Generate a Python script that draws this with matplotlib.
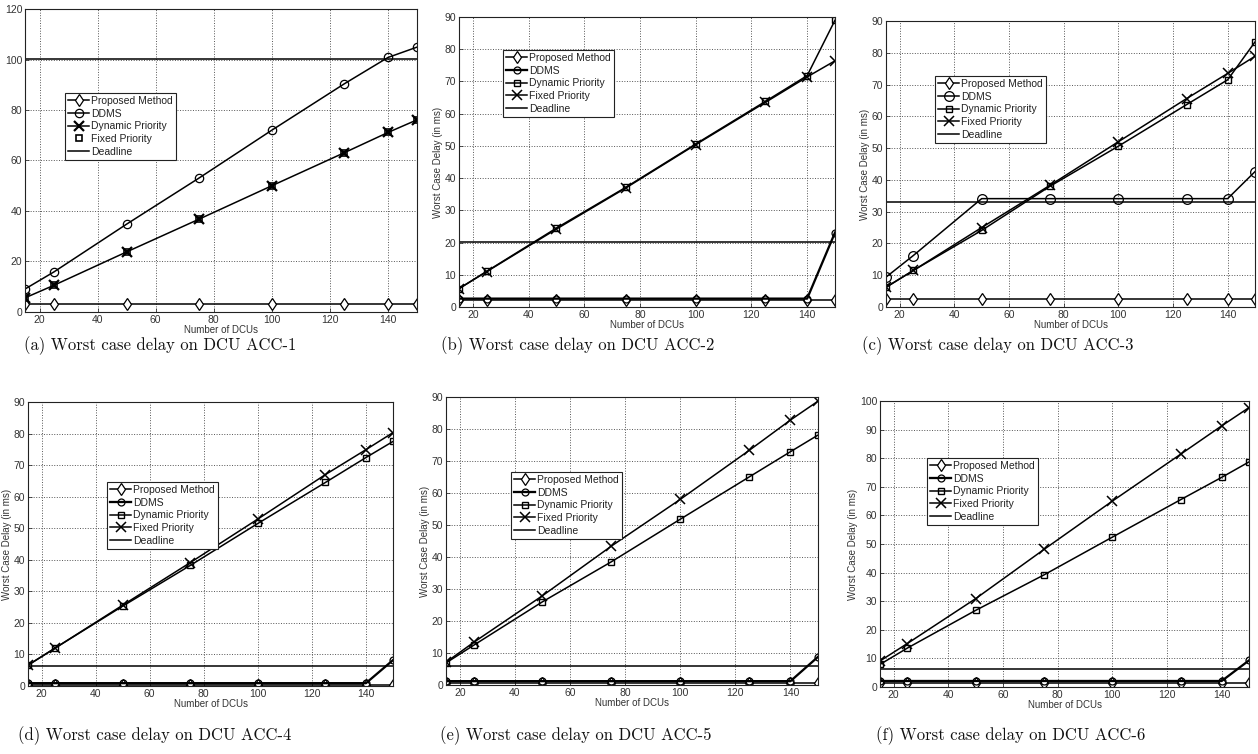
import matplotlib
matplotlib.use("Agg")
import matplotlib.pyplot as plt

# ---------------- data ----------------
n_dcus = [15, 25, 50, 75, 100, 125, 140, 150]

# (a) ACC-1
a_proposed = [3.3, 3.3, 3.3, 3.3, 3.3, 3.3, 3.3, 3.3]
a_ddms = [9.1, 15.9, 34.8, 53.1, 72.0, 90.4, 100.8, 104.9]
a_dynamic = [5.6, 10.6, 23.8, 36.8, 50.0, 63.1, 71.1, 76.1]
a_fixed = [5.6, 10.6, 23.8, 36.8, 50.0, 63.1, 71.1, 76.1]
a_deadline = 100.2

# (b) ACC-2
b_proposed = [2.1, 2.1, 2.1, 2.1, 2.1, 2.1, 2.1, 2.1]
b_ddms = [2.6, 2.6, 2.6, 2.6, 2.6, 2.6, 2.6, 23.1]
b_dynamic = [5.7, 11.1, 24.5, 37.2, 50.6, 63.8, 71.8, 89.0]
b_fixed = [5.7, 11.0, 24.2, 37.0, 50.4, 63.5, 71.4, 76.4]
b_deadline = 20.2

# (c) ACC-3
c_proposed = [2.6, 2.6, 2.6, 2.6, 2.6, 2.6, 2.6, 2.6]
c_ddms = [9.4, 16.2, 34.1, 34.1, 34.1, 34.1, 34.1, 42.6]
c_dynamic = [6.2, 11.5, 24.1, 38.0, 50.6, 63.7, 71.5, 83.4]
c_fixed = [6.2, 11.5, 25.0, 38.3, 52.0, 65.6, 73.5, 78.9]
c_deadline = 33.1

# (d) ACC-4
d_proposed = [0.4, 0.4, 0.4, 0.4, 0.4, 0.4, 0.4, 0.4]
d_ddms = [0.9, 0.9, 0.9, 0.9, 0.9, 0.9, 0.9, 8.2]
d_dynamic = [6.6, 12.0, 25.3, 38.2, 51.5, 64.5, 72.4, 77.5]
d_fixed = [6.6, 12.0, 25.6, 39.1, 52.9, 67.0, 74.9, 80.3]
d_deadline = 6.3

# (e) ACC-5
e_proposed = [0.6, 0.6, 0.6, 0.6, 0.6, 0.6, 0.6, 0.6]
e_ddms = [1.2, 1.2, 1.2, 1.2, 1.2, 1.2, 1.2, 8.8]
e_dynamic = [6.9, 12.4, 26.0, 38.5, 51.8, 65.0, 72.9, 78.1]
e_fixed = [7.1, 13.3, 27.9, 43.4, 58.0, 73.3, 82.8, 88.7]
e_deadline = 5.9

# (f) ACC-6
f_proposed = [1.5, 1.5, 1.5, 1.5, 1.5, 1.5, 1.5, 1.5]
f_ddms = [2.1, 2.1, 2.1, 2.1, 2.1, 2.1, 2.1, 9.3]
f_dynamic = [7.9, 13.6, 26.8, 39.2, 52.4, 65.5, 73.3, 78.7]
f_fixed = [9.1, 15.2, 30.9, 48.1, 65.0, 81.4, 91.3, 97.7]
f_deadline = 6.2

captions = [
    "(a) Worst case delay on DCU ACC-1",
    "(b) Worst case delay on DCU ACC-2",
    "(c) Worst case delay on DCU ACC-3",
    "(d) Worst case delay on DCU ACC-4",
    "(e) Worst case delay on DCU ACC-5",
    "(f) Worst case delay on DCU ACC-6",
]
series_names = ["Proposed Method", "DDMS", "Dynamic Priority", "Fixed Priority", "Deadline"]
xlabel = "Number of DCUs"
ylabel = "Worst Case Delay (in ms)"

# ---------------- drawing ----------------
W, H = 1258, 754
fig = plt.figure(figsize=(W / 100, H / 100), dpi=100)
plt.rcParams["font.family"] = ["Liberation Sans", "DejaVu Sans"]

TXT = "#333333"


def add_ax(l, t, r, b):
    return fig.add_axes([l / W, 1 - b / H, (r - l) / W, (b - t) / H])


panels = [
    dict(box=(25, 9, 417, 312), ymax=120, ystep=20,
         d=(a_proposed, a_ddms, a_dynamic, a_fixed), dl=a_deadline,
         leg=(65, 93), variant="a", ylab=False, cap=(160, 346)),
    dict(box=(459, 17, 835, 307), ymax=90, ystep=10,
         d=(b_proposed, b_ddms, b_dynamic, b_fixed), dl=b_deadline,
         leg=(503, 50), variant="b", ylab=True, cap=(578, 346)),
    dict(box=(886, 21, 1255, 307), ymax=90, ystep=10,
         d=(c_proposed, c_ddms, c_dynamic, c_fixed), dl=c_deadline,
         leg=(935, 76), variant="c", ylab=True, cap=(998, 346)),
    dict(box=(28, 402, 393, 686), ymax=90, ystep=10,
         d=(d_proposed, d_ddms, d_dynamic, d_fixed), dl=d_deadline,
         leg=(107, 482), variant="b", ylab=True, cap=(155, 736)),
    dict(box=(446, 397, 818, 685), ymax=90, ystep=10,
         d=(e_proposed, e_ddms, e_dynamic, e_fixed), dl=e_deadline,
         leg=(511, 472), variant="b", ylab=True, cap=(576, 736)),
    dict(box=(880, 401, 1249, 687), ymax=100, ystep=10,
         d=(f_proposed, f_ddms, f_dynamic, f_fixed), dl=f_deadline,
         leg=(927, 458), variant="b", ylab=True, cap=(1011, 736)),
]

lw = 1.1
for i, p in enumerate(panels):
    l, t, r, b = p["box"]
    ax = add_ax(l, t, r, b)
    prop, ddms, dyn, fix = p["d"]
    k = "k"
    if p["variant"] == "a":
        ax.plot(n_dcus, prop, color=k, lw=lw, marker="d", ms=6, mfc="white", mew=0.9,
                label=series_names[0])
        ax.plot(n_dcus, ddms, color=k, lw=lw, marker="o", ms=6, mfc="none", mew=0.9,
                label=series_names[1])
        ax.plot(n_dcus, dyn, color=k, lw=lw, marker="x", ms=7, mew=1.6,
                label=series_names[2])
        ax.plot(n_dcus, fix, color=k, ls="none", marker="s", ms=4.5, mfc="none", mew=1.2,
                label=series_names[3])
    else:
        ddms_ms = 7 if p["variant"] == "c" else 5
        ax.plot(n_dcus, prop, color=k, lw=lw, marker="d", ms=6, mfc="white", mew=0.9,
                label=series_names[0])
        ax.plot(n_dcus, ddms, color=k, lw=lw * 1.5 if p["variant"] != "c" else lw,
                marker="o", ms=ddms_ms, mfc="none", mew=0.9, label=series_names[1])
        ax.plot(n_dcus, dyn, color=k, lw=lw, marker="s", ms=4.5, mfc="none", mew=1.0,
                label=series_names[2])
        ax.plot(n_dcus, fix, color=k, lw=lw, marker="x", ms=7, mew=1.1,
                label=series_names[3])
    ax.axhline(p["dl"], color=k, lw=lw, label=series_names[4])

    ax.set_xlim(15, 150)
    ax.set_ylim(0, p["ymax"])
    ax.set_xticks(range(20, 141, 20))
    ax.set_yticks(range(0, p["ymax"] + 1, p["ystep"]))
    ax.grid(True, ls=":", color="#555555", lw=0.7)
    ax.tick_params(direction="in", length=3, labelsize=7.5, colors=TXT, width=0.6, pad=2)
    for s in ax.spines.values():
        s.set_linewidth(0.8)
        s.set_color("#222222")
    ax.set_xlabel(xlabel, fontsize=7, color=TXT, labelpad=0)
    if p["ylab"]:
        ax.set_ylabel(ylabel, fontsize=7, color=TXT, labelpad=1)

    lx, ly = p["leg"]
    leg = ax.legend(loc="upper left", bbox_to_anchor=(lx / W, 1 - ly / H),
                    bbox_transform=fig.transFigure, fontsize=7.5, frameon=True,
                    fancybox=False, edgecolor="#222222", framealpha=1,
                    borderpad=0.3, labelspacing=0.25, handlelength=2.0,
                    handletextpad=0.2, borderaxespad=0)
    leg.get_frame().set_linewidth(0.8)
    for txt in leg.get_texts():
        txt.set_color("#222222")

    cx, cy = p["cap"]
    fig.text(cx / W, 1 - cy / H, captions[i], ha="center", va="center",
             fontsize=12, family=["cmr10", "DejaVu Serif"], color="#111111")

fig.savefig("out.png", dpi=100)
